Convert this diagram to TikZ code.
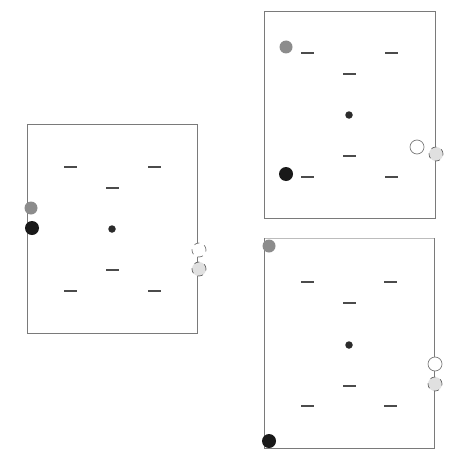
\documentclass[tikz,border=0pt]{standalone}
\usepackage{tikz}
\usetikzlibrary{positioning,calc}
\definecolor{ink}{HTML}{2B2B2B}
\definecolor{rim}{HTML}{7A7A7A}

\begin{document}
\begin{tikzpicture}[
  frm/.style={draw=rim, line width=0.5pt},
  bar/.style={draw=none, rectangle, fill=ink!85, minimum width=2.6mm,
    minimum height=0.5mm, inner sep=0pt},
  ctr/.style={circle, fill=ink, minimum size=1.5mm, inner sep=0pt},
  blk/.style={circle, fill=black!90, minimum size=2.8mm, inner sep=0pt},
  gry/.style={circle, fill=black!45, minimum size=2.6mm, inner sep=0pt},
  opn/.style={circle, draw=rim, fill=white, minimum size=2.8mm, inner sep=0pt},
  hat/.style={circle, draw=black!60, dashed, fill=black!12, minimum size=2.8mm,
    inner sep=0pt},
]
\useasboundingbox (0,0) rectangle (9.28,9.0);
% left panel
\begin{scope}[shift={(0.54,6.52)}]
\draw[frm] (0,0) rectangle (3.4,-4.18);
\node[bar] (a1) at (0.86,-0.86) {};
\node[bar] (a2) at (2.54,-0.86) {};
\node[bar] (a3) at (1.7,-1.28) {};
\node[ctr] (ac) at (1.7,-2.1) {};
\node[bar] (a4) at (1.7,-2.92) {};
\node[bar] (a5) at (0.86,-3.34) {};
\node[bar] (a6) at (2.54,-3.34) {};
\node[gry] (ag) at (0.08,-1.68) {};
\node[blk] (ab) at (0.1,-2.08) {};
\node[opn, dashed] (ao) at (3.44,-2.52) {};
\node[hat] (ah) at (3.44,-2.9) {};
\end{scope}
% upper right panel
\begin{scope}[shift={(5.28,8.78)}]
\draw[frm] (0,0) rectangle (3.42,-4.14);
\node[bar] (b1) at (0.86,-0.84) {};
\node[bar] (b2) at (2.54,-0.84) {};
\node[bar] (b3) at (1.7,-1.26) {};
\node[ctr] (bc) at (1.7,-2.08) {};
\node[bar] (b4) at (1.7,-2.9) {};
\node[bar] (b5) at (0.86,-3.32) {};
\node[bar] (b6) at (2.54,-3.32) {};
\node[gry] (bg) at (0.44,-0.72) {};
\node[blk] (bb) at (0.44,-3.26) {};
\node[opn] (bo) at (3.06,-2.72) {};
\node[hat] (bh) at (3.44,-2.86) {};
\end{scope}
% lower right panel
\begin{scope}[shift={(5.28,4.24)}]
\draw[frm, draw=rim!50] (0,0) -- (3.4,0);
\draw[frm] (3.4,0) -- (3.4,-4.2) -- (0,-4.2) -- (0,0);
\node[bar] (c1) at (0.86,-0.88) {};
\node[bar] (c2) at (2.52,-0.88) {};
\node[bar] (c3) at (1.7,-1.3) {};
\node[ctr] (cc) at (1.7,-2.14) {};
\node[bar] (c4) at (1.7,-2.96) {};
\node[bar] (c5) at (0.86,-3.36) {};
\node[bar] (c6) at (2.52,-3.36) {};
\node[gry] (cg) at (0.1,-0.16) {};
\node[blk] (cb) at (0.1,-4.06) {};
\node[opn] (co) at (3.42,-2.52) {};
\node[hat] (ch) at (3.42,-2.92) {};
\end{scope}
\end{tikzpicture}
\end{document}
